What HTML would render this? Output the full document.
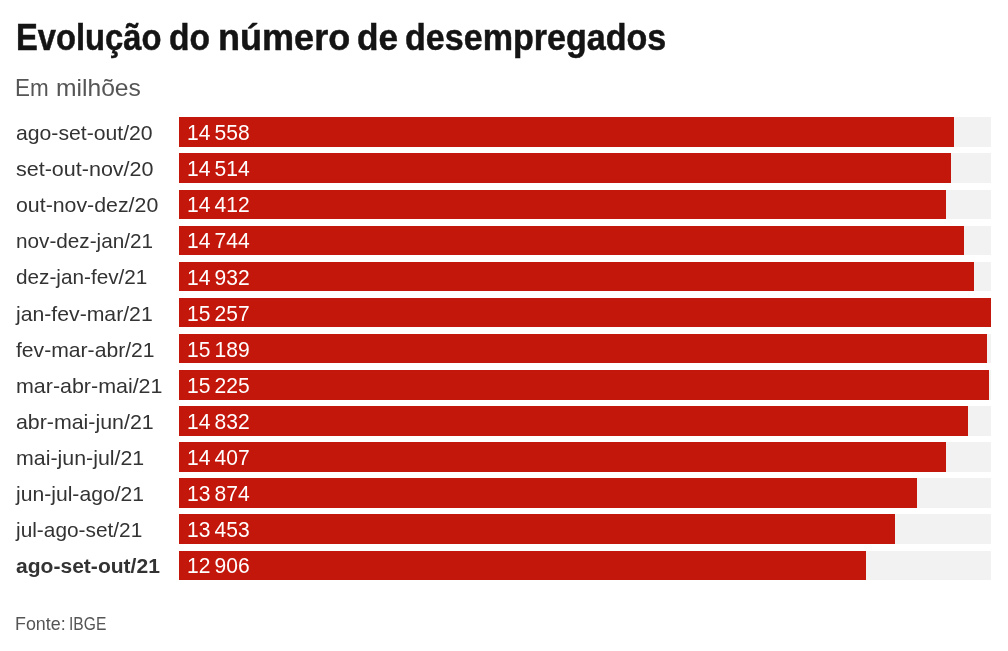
<!DOCTYPE html>
<html lang="pt-BR">
<head>
<meta charset="utf-8">
<title>Evolução do número de desempregados</title>
<style>
  html, body { margin: 0; padding: 0; background: #fff; }
  body { width: 1008px; height: 651px; overflow: hidden; position: relative;
         font-family: "Liberation Sans", Arial, sans-serif; }
  .t { position: absolute; white-space: nowrap; line-height: 1; transform-origin: 0 0; }
  #title { position: absolute; left: 0; top: 19px; width: 1008px; height: 45px; font-size: 37px; font-weight: bold; color: #141414; line-height: 1; -webkit-text-stroke: 0.5px #141414; }
  .tw { position: absolute; top: 0; white-space: nowrap; transform-origin: 0 0; }
  #sub { position: absolute; left: 0; top: 76.3px; width: 400px; height: 30px; font-size: 24.3px; color: #555; line-height: 1; }
  #src { position: absolute; left: 0; top: 615.2px; width: 400px; height: 24px; font-size: 18.4px; color: #555; line-height: 1; }
  .row { position: absolute; left: 0; width: 1008px; height: 29.6px; }
  .lab { position: absolute; left: 16.2px; top: 5.8px; font-size: 20.7px; color: #333; white-space: nowrap; line-height: 1; transform-origin: 0 0; }
  .lab.b { font-weight: bold; }
  .bg { position: absolute; left: 179.2px; width: 812.3px; top: 0; height: 29.6px; background: #f2f2f2; }
  .bar { position: absolute; left: 179.2px; top: 0; height: 29.6px; background: #c4170c; }
  .val { position: absolute; left: 187.1px; top: 4.9px; font-size: 21.8px; color: #fff; white-space: nowrap; line-height: 1; transform: scaleX(0.965); transform-origin: 0 0; }
</style>
</head>
<body>
<div id="title"><span class="tw" style="left:16.23px;transform:scaleX(0.8845)">Evolução</span> <span class="tw" style="left:168.69px;transform:scaleX(0.9071)">do</span> <span class="tw" style="left:218.15px;transform:scaleX(0.9742)">número</span> <span class="tw" style="left:356.60px;transform:scaleX(0.9525)">de</span> <span class="tw" style="left:404.66px;transform:scaleX(0.9207)">desempregados</span></div>
<div id="sub"><span class="tw" style="left:15.45px;transform:scaleX(0.9242)">Em</span> <span class="tw" style="left:55.57px;transform:scaleX(1.0136)">milhões</span></div>

<div class="row" style="top:117.3px"><div class="lab" style="transform:scaleX(1.0241)">ago-set-out/20</div><div class="bg"></div><div class="bar" style="width:774.6px"></div><div class="val">14&#8239;558</div></div>
<div class="row" style="top:153.4px"><div class="lab" style="transform:scaleX(1.0397)">set-out-nov/20</div><div class="bg"></div><div class="bar" style="width:772.3px"></div><div class="val">14&#8239;514</div></div>
<div class="row" style="top:189.5px"><div class="lab" style="transform:scaleX(1.0307)">out-nov-dez/20</div><div class="bg"></div><div class="bar" style="width:766.8px"></div><div class="val">14&#8239;412</div></div>
<div class="row" style="top:225.6px"><div class="lab" style="transform:scaleX(1.0015)">nov-dez-jan/21</div><div class="bg"></div><div class="bar" style="width:784.5px"></div><div class="val">14&#8239;744</div></div>
<div class="row" style="top:261.7px"><div class="lab" style="transform:scaleX(1.0023)">dez-jan-fev/21</div><div class="bg"></div><div class="bar" style="width:794.5px"></div><div class="val">14&#8239;932</div></div>
<div class="row" style="top:297.8px"><div class="lab" style="transform:scaleX(1.0250)">jan-fev-mar/21</div><div class="bg"></div><div class="bar" style="width:811.8px"></div><div class="val">15&#8239;257</div></div>
<div class="row" style="top:333.9px"><div class="lab" style="transform:scaleX(1.0215)">fev-mar-abr/21</div><div class="bg"></div><div class="bar" style="width:808.2px"></div><div class="val">15&#8239;189</div></div>
<div class="row" style="top:370.0px"><div class="lab" style="transform:scaleX(1.0357)">mar-abr-mai/21</div><div class="bg"></div><div class="bar" style="width:810.1px"></div><div class="val">15&#8239;225</div></div>
<div class="row" style="top:406.1px"><div class="lab" style="transform:scaleX(1.0318)">abr-mai-jun/21</div><div class="bg"></div><div class="bar" style="width:789.2px"></div><div class="val">14&#8239;832</div></div>
<div class="row" style="top:442.2px"><div class="lab" style="transform:scaleX(1.0325)">mai-jun-jul/21</div><div class="bg"></div><div class="bar" style="width:766.6px"></div><div class="val">14&#8239;407</div></div>
<div class="row" style="top:478.3px"><div class="lab" style="transform:scaleX(1.0210)">jun-jul-ago/21</div><div class="bg"></div><div class="bar" style="width:738.2px"></div><div class="val">13&#8239;874</div></div>
<div class="row" style="top:514.4px"><div class="lab" style="transform:scaleX(1.0073)">jul-ago-set/21</div><div class="bg"></div><div class="bar" style="width:715.8px"></div><div class="val">13&#8239;453</div></div>
<div class="row" style="top:550.5px"><div class="lab b" style="transform:scaleX(1.0177)">ago-set-out/21</div><div class="bg"></div><div class="bar" style="width:686.7px"></div><div class="val">12&#8239;906</div></div>

<div id="src"><span class="tw" style="left:15.36px;transform:scaleX(0.9708)">Fonte:</span> <span class="tw" style="left:69.40px;transform:scaleX(0.8488)">IBGE</span></div>
</body>
</html>
